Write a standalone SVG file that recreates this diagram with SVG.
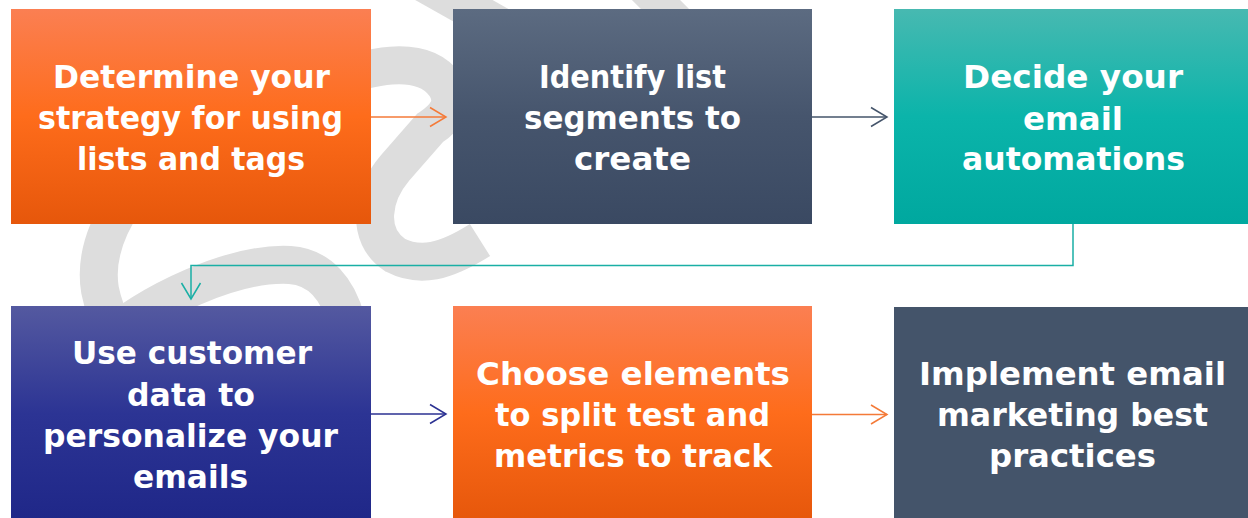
<svg xmlns="http://www.w3.org/2000/svg" width="1248" height="518" viewBox="0 0 1248 518">
  <style>
    .wm { fill: none; stroke: #dddddd; stroke-width: 38; stroke-linecap: butt; }
    .lbl { font-family: "DejaVu Sans", "Liberation Sans", sans-serif; font-weight: bold; font-size: 32px; fill: #ffffff; }
    .conn { fill: none; stroke-width: 1.5; }
  </style>
  <defs>
    <linearGradient id="g-orange" x1="0" y1="0" x2="0" y2="1">
      <stop offset="0" stop-color="#fb7f52"/>
      <stop offset="0.5" stop-color="#fe6c1b"/>
      <stop offset="1" stop-color="#e6570b"/>
    </linearGradient>
    <linearGradient id="g-slate" x1="0" y1="0" x2="0" y2="1">
      <stop offset="0" stop-color="#5c6b81"/>
      <stop offset="0.5" stop-color="#46556d"/>
      <stop offset="1" stop-color="#3a4962"/>
    </linearGradient>
    <linearGradient id="g-teal" x1="0" y1="0" x2="0" y2="1">
      <stop offset="0" stop-color="#47b9b1"/>
      <stop offset="0.5" stop-color="#0bb4aa"/>
      <stop offset="1" stop-color="#00a89f"/>
    </linearGradient>
    <linearGradient id="g-indigo" x1="0" y1="0" x2="0" y2="1">
      <stop offset="0" stop-color="#5459a0"/>
      <stop offset="0.5" stop-color="#2c3494"/>
      <stop offset="1" stop-color="#1f2788"/>
    </linearGradient>
    <marker id="ah-orange" markerUnits="userSpaceOnUse" orient="auto" overflow="visible" markerWidth="1" markerHeight="1">
      <path d="M-16,-9.5 L0,0 L-16,9.5" fill="none" stroke="#f47a38" stroke-width="1.5"/>
    </marker>
    <marker id="ah-slate" markerUnits="userSpaceOnUse" orient="auto" overflow="visible" markerWidth="1" markerHeight="1">
      <path d="M-16,-9.5 L0,0 L-16,9.5" fill="none" stroke="#44546a" stroke-width="1.5"/>
    </marker>
    <marker id="ah-teal" markerUnits="userSpaceOnUse" orient="auto" overflow="visible" markerWidth="1" markerHeight="1">
      <path d="M-16,-9.5 L0,0 L-16,9.5" fill="none" stroke="#1aafa5" stroke-width="1.5"/>
    </marker>
    <marker id="ah-indigo" markerUnits="userSpaceOnUse" orient="auto" overflow="visible" markerWidth="1" markerHeight="1">
      <path d="M-16,-9.5 L0,0 L-16,9.5" fill="none" stroke="#2b3192" stroke-width="1.5"/>
    </marker>
  </defs>

  <rect width="1248" height="518" fill="#ffffff"/>

  <!-- light grey ribbon in the background -->
  <g id="watermark">
    <path class="wm" d="M320,82 C360,70 420,50 445,85 C458,104 445,118 430,128 L395,168 C372,195 365,235 395,255 C420,268 445,262 480,240"/>
    <path class="wm" d="M125,200 C105,230 95,260 100,290 C103,305 108,318 115,330"/>
    <path class="wm" d="M100,345 C150,300 235,262 290,265 C320,267 338,290 346,320"/>
    <path class="wm" d="M390,-36 L500,26"/>
    <path class="wm" style="stroke-width:34" d="M616,-40 L700,44"/>
  </g>

  <!-- connectors -->
  <g id="connectors">
    <path class="conn" stroke="#f47a38" marker-end="url(#ah-orange)" d="M371,117 H446"/>
    <path class="conn" stroke="#44546a" marker-end="url(#ah-slate)" d="M812,117 H887"/>
    <path class="conn" stroke="#1aafa5" marker-end="url(#ah-teal)" d="M1073,224 V265.5 H191 V299"/>
    <path class="conn" stroke="#2b3192" marker-end="url(#ah-indigo)" d="M371,414 H446"/>
    <path class="conn" stroke="#f47a38" marker-end="url(#ah-orange)" d="M812,414.5 H887"/>
  </g>

  <!-- step 1 -->
  <g id="node-strategy">
    <rect x="11" y="9" width="360" height="215" fill="url(#g-orange)"/>
    <text class="lbl" x="53" y="88" textLength="277" lengthAdjust="spacingAndGlyphs">Determine your</text>
    <text class="lbl" x="38" y="129" textLength="305" lengthAdjust="spacingAndGlyphs">strategy for using</text>
    <text class="lbl" x="77" y="170" textLength="228" lengthAdjust="spacingAndGlyphs">lists and tags</text>
  </g>

  <!-- step 2 -->
  <g id="node-segments">
    <rect x="453" y="9" width="359" height="215" fill="url(#g-slate)"/>
    <text class="lbl" x="539" y="88" textLength="187" lengthAdjust="spacingAndGlyphs">Identify list</text>
    <text class="lbl" x="524" y="129" textLength="217" lengthAdjust="spacingAndGlyphs">segments to</text>
    <text class="lbl" x="574" y="170" textLength="117" lengthAdjust="spacingAndGlyphs">create</text>
  </g>

  <!-- step 3 -->
  <g id="node-automations">
    <rect x="894" y="9" width="360" height="215" fill="url(#g-teal)"/>
    <text class="lbl" x="963" y="88" textLength="220" lengthAdjust="spacingAndGlyphs">Decide your</text>
    <text class="lbl" x="1023" y="130" textLength="100" lengthAdjust="spacingAndGlyphs">email</text>
    <text class="lbl" x="962" y="170" textLength="223" lengthAdjust="spacingAndGlyphs">automations</text>
  </g>

  <!-- step 4 -->
  <g id="node-personalize">
    <rect x="11" y="306" width="360" height="215" fill="url(#g-indigo)"/>
    <text class="lbl" x="72" y="364" textLength="240" lengthAdjust="spacingAndGlyphs">Use customer</text>
    <text class="lbl" x="127" y="406" textLength="128" lengthAdjust="spacingAndGlyphs">data to</text>
    <text class="lbl" x="43" y="447" textLength="295" lengthAdjust="spacingAndGlyphs">personalize your</text>
    <text class="lbl" x="133" y="488" textLength="115" lengthAdjust="spacingAndGlyphs">emails</text>
  </g>

  <!-- step 5 -->
  <g id="node-split-test">
    <rect x="453" y="306" width="359" height="215" fill="url(#g-orange)"/>
    <text class="lbl" x="476" y="385" textLength="314" lengthAdjust="spacingAndGlyphs">Choose elements</text>
    <text class="lbl" x="495" y="426" textLength="275" lengthAdjust="spacingAndGlyphs">to split test and</text>
    <text class="lbl" x="494" y="467" textLength="278" lengthAdjust="spacingAndGlyphs">metrics to track</text>
  </g>

  <!-- step 6 -->
  <g id="node-best-practices">
    <rect x="894" y="307" width="360" height="215" fill="#44546a"/>
    <text class="lbl" x="919" y="385" textLength="307" lengthAdjust="spacingAndGlyphs">Implement email</text>
    <text class="lbl" x="937" y="426" textLength="271" lengthAdjust="spacingAndGlyphs">marketing best</text>
    <text class="lbl" x="989" y="467" textLength="167" lengthAdjust="spacingAndGlyphs">practices</text>
  </g>
</svg>
